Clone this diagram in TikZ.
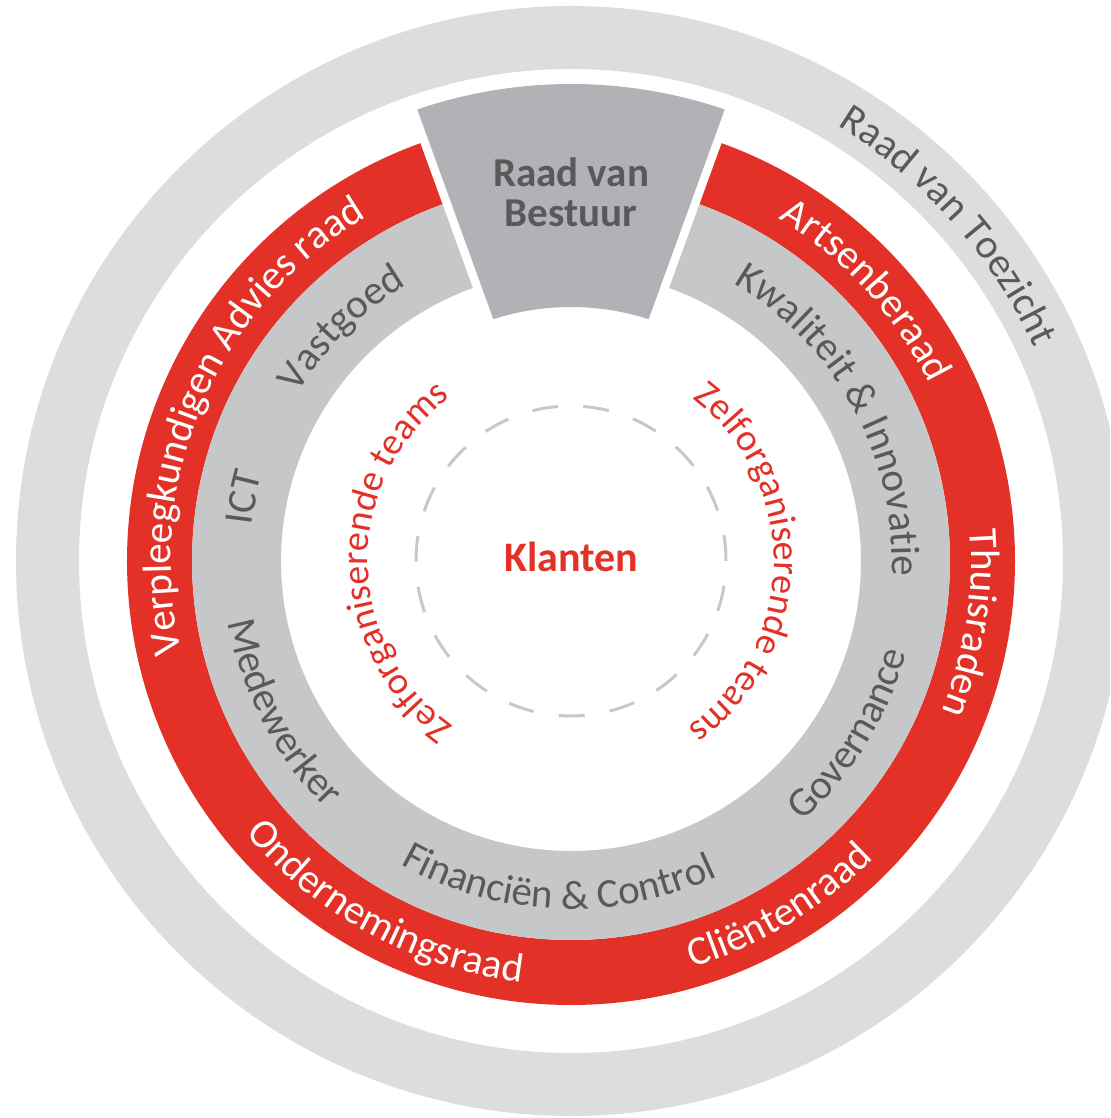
\documentclass[tikz,border=0pt]{standalone}
\usepackage{fontspec}
\setmainfont{Carlito}
\usetikzlibrary{decorations.text}

\definecolor{ringlight}{HTML}{DCDDDF}
\definecolor{ringred}{HTML}{E33127}
\definecolor{ringmid}{HTML}{C6C7C9}
\definecolor{boardgray}{HTML}{B0B2B5}
\definecolor{labelgray}{HTML}{58595B}
\definecolor{dashgray}{HTML}{C8C8C8}

% text set along a circle round the origin:
% #1 centre angle, #2 baseline radius (pt), #3 colour, #4 size (pt), #5 text
\newcommand\cwlabel[5]{%
  \path[decorate, decoration={text along path, text align=center, text color=#3,
      text={|\fontsize{#4}{#4}\selectfont|#5}}]
    ({#1+85}:#2pt) arc[start angle={#1+85}, end angle={#1-85}, radius=#2pt];}
\newcommand\ccwlabel[5]{%
  \path[decorate, decoration={text along path, text align=center, text color=#3,
      text={|\fontsize{#4}{#4}\selectfont|#5}}]
    ({#1-85}:#2pt) arc[start angle={#1-85}, end angle={#1+85}, radius=#2pt];}

% the board segment at the top of the rings
\newcommand\boardpath{(107.8:254pt) -- (108.8:477pt)
  arc[start angle=108.8, end angle=71.2, radius=477pt] -- (72.2:254pt)
  arc[start angle=72.2, end angle=107.8, radius=254pt] -- cycle}

\tikzset{
  boardtext/.style={text=labelgray, font=\fontsize{41}{41}\selectfont\bfseries, inner sep=0pt},
  centretext/.style={text=ringred, font=\fontsize{42}{42}\selectfont\bfseries, inner sep=0pt},
}

\begin{document}
\begin{tikzpicture}[x=1pt,y=1pt]
\useasboundingbox (-571,-557) rectangle (539,561);
\clip (-571,-557) rectangle (539,561);

% rings
\fill[ringlight, even odd rule] (0,0) circle[radius=555pt] (0,0) circle[radius=492pt];
\fill[ringred, even odd rule] (0,0) circle[radius=444pt] (0,0) circle[radius=379pt];
\fill[ringmid, even odd rule] (0,0) circle[radius=379pt] (0,0) circle[radius=290pt];

% board segment, cut out of the rings with a white margin
\path[fill=boardgray, draw=white, line width=17pt, line join=miter] \boardpath;
\fill[boardgray] \boardpath;
\node[boardtext, anchor=base] (board1) at (0,374) {Raad van};
\node[boardtext, anchor=base] (board2) at (0,334) {Bestuur};

% centre
\draw[dashgray, line width=3pt, dash pattern=on 26pt off 25.3pt] (0,0) circle[radius=155pt];
\node[centretext, anchor=base] (clients) at (0,-11) {Klanten};

% outer ring
\cwlabel{41.6}{510}{labelgray}{41}{Raad van Toezicht}

% red ring
\cwlabel{42.5}{400}{white}{41}{Artsenberaad}
\cwlabel{157}{400}{white}{41}{Verpleegkundigen Advies raad}
\cwlabel{-8.8}{400}{white}{41}{Thuisraden}
\ccwlabel{241.6}{424}{white}{41}{Ondernemingsraad}
\ccwlabel{-58.9}{424}{white}{41}{Cli{ë}ntenraad}

% middle ring
\cwlabel{28.5}{321}{labelgray}{41}{Kwaliteit {\&} Innovatie}
\cwlabel{134.6}{321}{labelgray}{41}{Vastgoed}
\cwlabel{169}{321}{labelgray}{41}{ICT}
\ccwlabel{207.8}{348}{labelgray}{41}{Medewerker}
\ccwlabel{-92.2}{348}{labelgray}{41}{Financi{ë}n {\&} Control}
\ccwlabel{-31.8}{348}{labelgray}{41}{Governance}

% inner teams
\cwlabel{180.5}{203}{ringred}{38}{Zelforganiserende teams}
\cwlabel{-1}{203}{ringred}{38}{Zelforganiserende teams}
\end{tikzpicture}
\end{document}
